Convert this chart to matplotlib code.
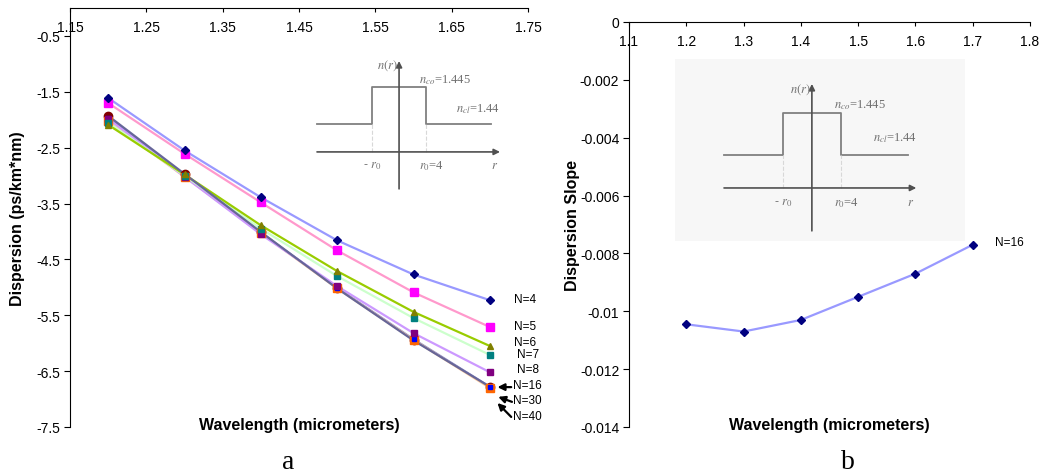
import numpy as np
import matplotlib
matplotlib.use('Agg')
import matplotlib.pyplot as plt

plt.rcParams['font.family'] = ['Liberation Sans', 'DejaVu Sans']
plt.rcParams['axes.unicode_minus'] = False
plt.rcParams['mathtext.fontset'] = 'stix'

# data
wl = [1.2, 1.3, 1.4, 1.5, 1.6, 1.7]
d_n4 = [-1.61, -2.55, -3.39, -4.16, -4.77, -5.23]
d_n5 = [-1.70, -2.61, -3.48, -4.34, -5.09, -5.71]
d_n6 = [-2.09, -2.98, -3.89, -4.71, -5.44, -6.05]
d_n7 = [-2.05, -3.00, -3.95, -4.80, -5.55, -6.21]
d_n8 = [-1.98, -3.02, -4.05, -4.98, -5.82, -6.52]
d_n16 = [-1.97, -3.00, -4.02, -5.01, -5.93, -6.78]
d_n30 = [-2.03, -3.02, -4.03, -5.02, -5.94, -6.80]
d_n40 = [-1.93, -2.97, -4.01, -5.02, -5.95, -6.78]
slope_n16 = [-0.01045, -0.0107, -0.0103, -0.0095, -0.0087, -0.0077]

left_xticks = [1.15, 1.25, 1.35, 1.45, 1.55, 1.65, 1.75]
left_yticks = [-7.5, -6.5, -5.5, -4.5, -3.5, -2.5, -1.5, -0.5]
right_xticks = [1.1, 1.2, 1.3, 1.4, 1.5, 1.6, 1.7, 1.8]
right_yticks = [0, -0.002, -0.004, -0.006, -0.008, -0.01, -0.012, -0.014]

# series: values, line colour, marker, marker colour, marker size, line zorder
series = [
    (d_n40, '#666699', 'o', '#800000', 6, 2.9),
    (d_n30, '#FFCC99', 's', '#FF6600', 5.5, 2.5),
    (d_n16, '#8888CC', 's', '#0000FF', 2.5, 2.4),
    (d_n8, '#CC99FF', 's', '#800080', 5, 2.6),
    (d_n7, '#CCFFCC', 's', '#008080', 5, 2.6),
    (d_n6, '#99CC00', '^', '#808000', 5, 2.7),
    (d_n5, '#FF99CC', 's', '#FF00FF', 5.5, 2.7),
    (d_n4, '#9999FF', 'D', '#000080', 4, 2.7),
]

# series end labels (text positions in data coords)
lab_txt = ['N=4', 'N=5', 'N=6', 'N=7', 'N=8', 'N=16', 'N=30', 'N=40']
lab_x = [1.732, 1.732, 1.732, 1.736, 1.736, 1.731, 1.731, 1.731]
lab_y = [-5.20, -5.70, -5.98, -6.20, -6.46, -6.75, -7.02, -7.30]

W, H = 1040, 477
fig = plt.figure(figsize=(W / 100, H / 100), dpi=100)


def px_axes(x0, y0, x1, y1):
    return fig.add_axes([x0 / W, 1 - y1 / H, (x1 - x0) / W, (y1 - y0) / H])


def style_axes(ax):
    ax.spines['right'].set_visible(False)
    ax.spines['bottom'].set_visible(False)
    ax.xaxis.set_ticks_position('top')
    ax.tick_params(axis='x', direction='in', length=3, pad=-19, labelsize=10)
    ax.tick_params(axis='y', direction='out', length=4, pad=3, labelsize=10)
    ax.patch.set_alpha(0)


def schematic(ax, left, right, clad, core, top, bottom, arrow_end):
    ax.axis('off')
    gray = '#808080'
    ax.plot([left, -1, -1, 1, 1, right], [clad, clad, core, core, clad, clad],
            color=gray, lw=1.3)
    ax.plot([-1, -1], [0, clad], color='#d8d8d8', lw=0.8, ls='--')
    ax.plot([1, 1], [0, clad], color='#d8d8d8', lw=0.8, ls='--')
    ax.annotate('', xy=(arrow_end, 0), xytext=(left, 0),
                arrowprops=dict(arrowstyle='-|>', color='#505050', lw=1.2,
                                mutation_scale=9, shrinkA=0, shrinkB=0))
    ax.annotate('', xy=(0, top), xytext=(0, bottom),
                arrowprops=dict(arrowstyle='-|>', color='#505050', lw=1.2,
                                mutation_scale=9, shrinkA=0, shrinkB=0))
    tc = '#707070'
    fs = 9
    ax.text(-0.05, top - 0.15, '$n(r)$', color=tc, fontsize=fs, ha='right', va='center')
    ax.text(0.75, core + 0.3, '$n_{co}$=1.445', color=tc, fontsize=fs,
            ha='left', va='center', family='Liberation Serif')
    ax.text(2.1, clad + 0.6, '$n_{cl}$=1.44', color=tc, fontsize=fs,
            ha='left', va='center', family='Liberation Serif')
    ax.text(-1, -0.5, '- $r_0$', color=tc, fontsize=fs, ha='center', va='center')
    ax.text(0.75, -0.5, '$r_0$=4', color=tc, fontsize=fs, ha='left', va='center',
            family='Liberation Serif')
    ax.text(arrow_end - 0.2, -0.5, '$r$', color=tc, fontsize=fs, ha='center', va='center')


# ---- left chart (a)
ax1 = px_axes(70, 9, 528, 428)
for vals, lc, mk, mc, ms, lz in series:
    ax1.plot(wl, vals, color=lc, lw=1.6, zorder=lz)
for vals, lc, mk, mc, ms, lz in series:
    ax1.plot(wl, vals, ls='none', marker=mk, markerfacecolor=mc,
             markeredgecolor=mc, markersize=ms, zorder=4)
ax1.set_xlim(1.15, 1.75)
ax1.set_ylim(-7.5, 0)
ax1.set_xticks(left_xticks)
ax1.set_xticklabels(['%g' % t for t in left_xticks])
ax1.set_yticks(left_yticks)
ax1.set_yticklabels(['%g' % t for t in left_yticks])
style_axes(ax1)
ax1.set_ylabel('Dispersion (ps/km*nm)', fontsize=11.5, fontweight='bold')
ax1.yaxis.set_label_coords(-0.098, 0.5)
ax1.text(0.5, 0.007, 'Wavelength (micrometers)', transform=ax1.transAxes,
         ha='center', va='center', fontsize=11.5, fontweight='bold')
for t, x, y in zip(lab_txt, lab_x, lab_y):
    ax1.text(x, y, t, fontsize=8.5, ha='left', va='center')

arrow_from = [(1.728, -6.786), (1.729, -7.05), (1.728, -7.32)]
arrow_to = [(1.710, -6.786), (1.711, -6.96), (1.710, -7.07)]
for a, b in zip(arrow_from, arrow_to):
    ax1.annotate('', xy=b, xytext=a,
                 arrowprops=dict(arrowstyle='-|>', color='black', lw=1.6,
                                 mutation_scale=10, shrinkA=0, shrinkB=0))

ins1 = px_axes(300, 55, 510, 195)
ins1.set_xlim(-3.67, 4.11)
ins1.set_ylim(-1.56, 3.63)
schematic(ins1, -3.04, 3.4, 1.04, 2.4, 3.37, -1.37, 3.74)

# ---- right chart (b)
ax2 = px_axes(629, 23, 1030, 428)
ax2.plot(wl, slope_n16, color='#9999FF', lw=1.6, marker='D',
         markerfacecolor='#000080', markeredgecolor='#000080', markersize=4, zorder=3)
ax2.set_xlim(1.1, 1.8)
ax2.set_ylim(-0.014, 0)
ax2.set_xticks(right_xticks)
ax2.set_xticklabels(['%g' % t for t in right_xticks])
ax2.set_yticks(right_yticks)
ax2.set_yticklabels(['%g' % t for t in right_yticks])
style_axes(ax2)
ax2.set_ylabel('Dispersion Slope', fontsize=11.5, fontweight='bold')
ax2.yaxis.set_label_coords(-0.122, 0.5)
ax2.text(0.5, 0.005, 'Wavelength (micrometers)', transform=ax2.transAxes,
         ha='center', va='center', fontsize=11.5, fontweight='bold')
ax2.text(1.739, -0.0076, 'N=16', fontsize=8.5, ha='left', va='center')

ins2 = px_axes(675, 60, 965, 242)
ins2.set_xlim(-4.72, 5.28)
ins2.set_ylim(-1.83, 4.45)
schematic(ins2, -3.03, 3.3, 1.14, 2.59, 3.59, -1.48, 3.6)
ins2.add_patch(plt.Rectangle((0, 0), 1, 1, transform=ins2.transAxes,
                             facecolor='#f7f7f7', edgecolor='none', zorder=-1))

fig.text(288 / W, 1 - 469 / H, 'a', fontsize=20, family='Liberation Serif',
         ha='center', va='baseline')
fig.text(848 / W, 1 - 469 / H, 'b', fontsize=20, family='Liberation Serif',
         ha='center', va='baseline')

fig.savefig('out.png', dpi=100)
